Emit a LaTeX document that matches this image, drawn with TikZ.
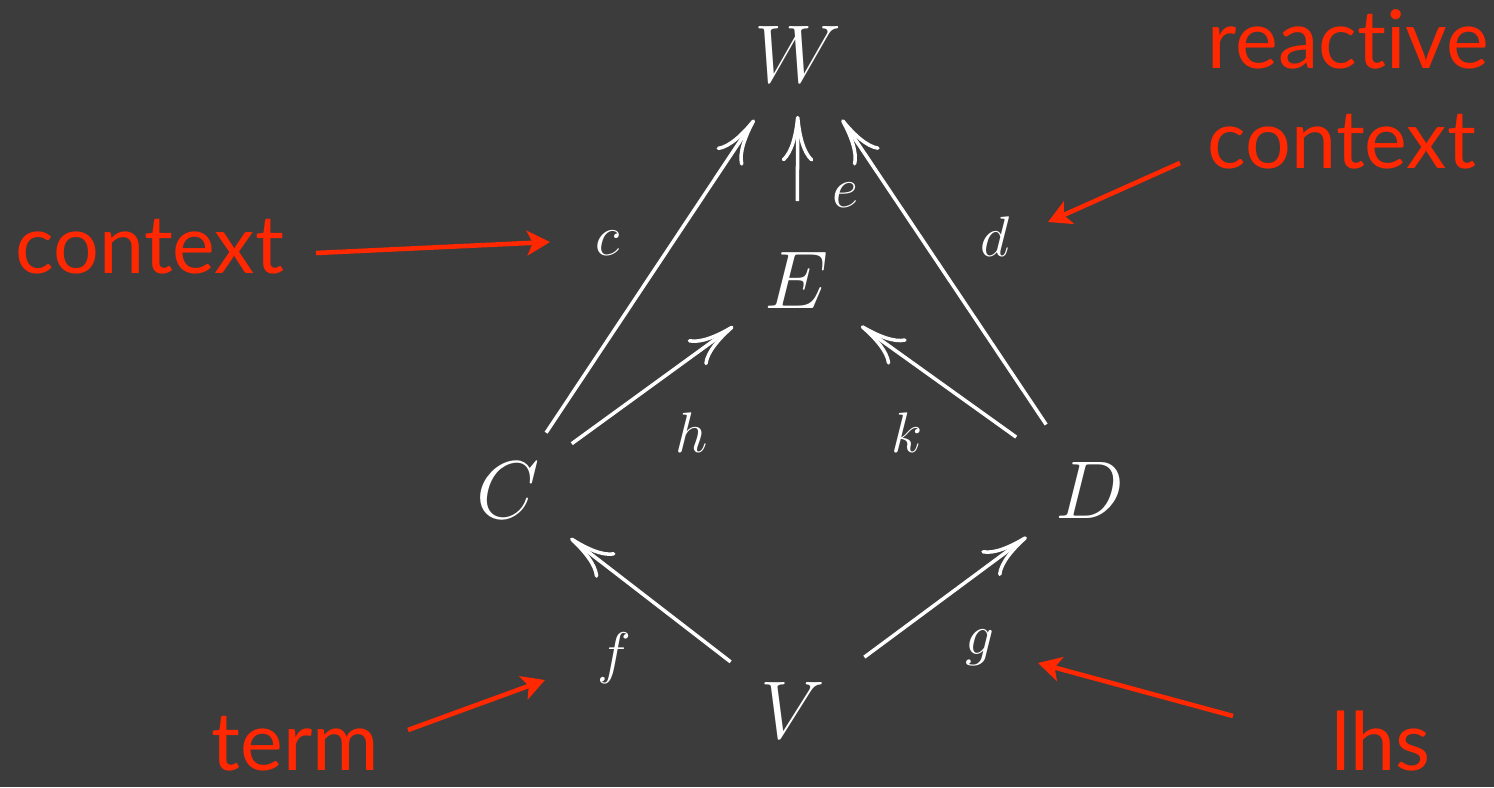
\documentclass[tikz,border=0pt]{standalone}
\usepackage{fontspec}
\usepackage{xcolor}
\usetikzlibrary{arrows.meta}
\newfontfamily\notefont[Ligatures=NoCommon]{Lato}
\definecolor{SlideGrey}{RGB}{60,60,60}
\definecolor{NoteRed}{RGB}{255,40,0}
\tikzset{
  obj/.style={circle, inner sep=0pt, minimum size=1.387cm, text=white,
    font=\huge, scale=1.125, transform shape},
  mor/.style={text=white, inner sep=1pt, font=\Large, scale=1.13, transform shape},
  cdarr/.style={-{Computer Modern Rightarrow[length=13pt, width=9pt]}, white, line width=1pt},
  notetxt/.style={text=NoteRed, inner sep=0pt, align=left,
    font=\notefont\fontsize{23}{28.45}\selectfont},
  notearr/.style={-{Stealth[length=6.5pt, width=7pt, inset=1.6pt]}, NoteRed, line width=1.3pt},
}

\begin{document}
\begin{tikzpicture}
  \useasboundingbox[fill=SlideGrey] (0,0) rectangle (14.94,7.87);
  % objects of the diagram
  \node[obj] (W) at (7.98,7.33) {$W$};
  \node[obj] (E) at (7.97,5.07) {$E$};
  \node[obj] (C) at (5.08,2.97) {$C$};
  \node[obj] (D) at (10.90,2.97) {$D$};
  \node[obj] (V) at (7.93,0.77) {$V$};
  % arrow labels
  \node[mor] (c) at (6.08,5.44) {$c$};
  \node[mor] (e) at (8.45,5.92) {$e$};
  \node[mor] (d) at (9.95,5.50) {$d$};
  \node[mor] (h) at (6.92,3.54) {$h$};
  \node[mor] (k) at (9.07,3.54) {$k$};
  \node[mor] (f) at (6.14,1.29) {$f$};
  \node[mor] (g) at (9.80,1.39) {$g$};
  % arrows
  \draw[cdarr, shorten <=-0.1cm] (C) -- (W);
  \draw[cdarr] (C) -- (E);
  \draw[cdarr, shorten >=-0.17cm] (E) -- (W);
  \draw[cdarr] (D) -- (W);
  \draw[cdarr, shorten <=0.12cm] (D) -- (E);
  \draw[cdarr] (V) -- (C);
  \draw[cdarr, shorten <=0.1cm] (V) -- (D);
  % annotations
  \node[notetxt, anchor=base west] (ctxlab) at (0.15,5.14) {context};
  \node[notetxt, anchor=base west] (rctxlab) at (12.07,6.19) {reactive\\context};
  \node[notetxt, anchor=base west] (termlab) at (2.11,0.17) {term};
  \node[notetxt, anchor=base west] (lhslab) at (13.31,0.17) {lhs};
  \coordinate (ctxfrom) at (3.16,5.34);
  \coordinate (ctxto) at (5.50,5.45);
  \coordinate (rctxfrom) at (11.80,6.24);
  \coordinate (rctxto) at (10.48,5.65);
  \coordinate (termfrom) at (4.08,0.57);
  \coordinate (termto) at (5.45,1.07);
  \coordinate (lhsfrom) at (12.33,0.71);
  \coordinate (lhsto) at (10.38,1.24);
  \draw[notearr] (ctxfrom) -- (ctxto);
  \draw[notearr] (rctxfrom) -- (rctxto);
  \draw[notearr] (termfrom) -- (termto);
  \draw[notearr] (lhsfrom) -- (lhsto);
\end{tikzpicture}
\end{document}
